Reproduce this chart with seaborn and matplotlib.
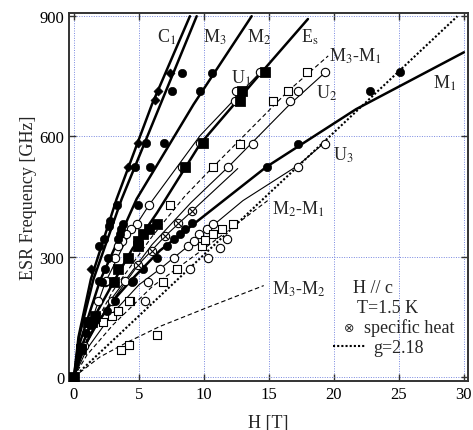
import numpy as np
import pandas as pd
import matplotlib
matplotlib.use("Agg")
import matplotlib.pyplot as plt
import seaborn as sns

# ---- curves (H [T], frequency [GHz]) ----
c1_h = [0, 0.35, 1.3, 3.28, 6.0, 8.92]
c1_f = [0, 100, 244, 444, 680, 900]
m3_h = [0, 0.4, 1.5, 3.67, 6.5, 9.44]
m3_f = [0, 100, 244, 444, 668, 900]
m2_h = [0, 0.5, 2.0, 4.82, 9.2, 13.67]
m2_f = [0, 90, 240, 444, 680, 900]
es_h = [0, 0.5, 1.4, 3.1, 4.5, 6.4, 9.7, 14.7, 18.0]
es_f = [0, 70, 140, 240, 320, 410, 581, 770, 893]
m1_h = [0, 0.5, 1.5, 3.0, 4.5, 6.6, 9.7, 14.8, 21.7, 30.0]
m1_f = [0, 55, 120, 190, 245, 315, 394, 524, 668, 810]
u1_h = [0, 0.8, 2.4, 4.0, 5.8, 9.7, 14.56]
u1_f = [0, 90, 235, 340, 430, 602, 768]
u2_h = [0, 1.0, 3.0, 6.0, 9.0, 11.87, 16.6, 19.4]
u2_f = [0, 90, 200, 330, 435, 524, 680, 762]
u3_h = [0, 1.0, 3.0, 5.0, 6.6, 8.8, 13.0, 17.2, 19.3]
u3_f = [0, 70, 160, 230, 269, 327, 440, 527, 585]
sh_h = [0, 1.0, 2.5, 4.95, 7.0, 9.05, 12.6]
sh_f = [0, 85, 170, 280, 351, 413, 520]
m31_h = [0, 1.0, 3.0, 6.0, 8.5, 10.7, 16.5, 19.56]
m31_f = [0, 95, 215, 350, 450, 524, 714, 801]
m21_h = [0, 1.0, 3.0, 6.0, 10.0, 14.9]
m21_f = [0, 55, 130, 225, 320, 440]
m32_h = [0, 2.0, 4.0, 6.6, 10.0, 14.6]
m32_f = [0, 50, 85, 126, 170, 228]
g_h = [0, 29.5]
g_f = [0, 900]

# ---- data points ----
fc_h = [4.69, 5.54, 7.51, 8.33, 5.85, 6.92, 9.69, 10.59, 14.82, 17.2, 22.8, 25.1,
        3.28, 2.72, 2.77, 1.95, 2.33, 4.9, 3.79, 3.64, 3.54, 3.41, 2.64, 2.38,
        2.13, 4.44, 5.28, 6.36, 7.13, 7.7, 8.15, 8.54, 9.05, 3.15, 2.51, 1.95,
        3.1, 4.51, 1.2, 0.9, 0.6]
fc_f = [524, 583, 714, 758, 524, 583, 714, 758, 524, 581, 714, 760,
        429, 377, 390, 327, 344, 429, 382, 369, 357, 344, 297, 269,
        238, 238, 269, 297, 327, 344, 357, 369, 383, 190, 165, 240,
        240, 240, 130, 110, 75]
oc_h = [8.28, 9.69, 11.87, 13.75, 16.6, 17.2, 19.3, 12.4, 12.5, 14.3, 17.2, 19.3,
        5.79, 4.87, 4.4, 4.0, 3.7, 3.4, 3.15, 2.38, 1.87, 6.6, 5.72, 5.46,
        7.69, 8.8, 9.6, 10.2, 10.7, 10.33, 11.2, 9.2, 8.9, 11.74, 2.92, 0.8,
        2.46, 3.95]
oc_f = [524, 583, 524, 581, 689, 714, 760, 689, 714, 760, 524, 581,
        429, 382, 369, 357, 340, 327, 297, 238, 190, 269, 238, 190,
        297, 327, 356, 369, 381, 298, 323, 340, 269, 344, 190, 78,
        240, 240]
os_h = [10.7, 12.77, 16.5, 17.95, 15.33, 7.38, 7.9, 6.87, 4.31, 3.41, 2.9, 2.26,
        9.82, 10.08, 10.7, 11.36, 12.26, 6.36, 4.23, 3.62, 4.26, 3.36]
os_f = [524, 581, 714, 760, 689, 429, 269, 238, 190, 165, 153, 136,
        327, 342, 356, 369, 382, 105, 81, 68, 190, 165]
fs_h = [8.54, 9.95, 12.8, 12.9, 14.7, 6.36, 5.8, 5.33, 4.95, 4.9, 4.18, 3.41,
        3.1, 1.62, 1.36, 1.05, 0.51, 0]
fs_f = [524, 583, 689, 714, 760, 381, 369, 356, 340, 328, 297, 269,
        238, 153, 136, 136, 70, 0]
dm_h = [7.38, 6.44, 6.23, 4.95, 4.18, 1.31]
dm_f = [758, 714, 691, 583, 524, 269]
heat_h = [9.05, 8.0, 7.0, 5.97, 4.95]
heat_f = [413, 384, 351, 315, 280]

sns.set_style("ticks")
plt.rcParams["font.family"] = ["Liberation Serif", "DejaVu Sans"]
plt.rcParams["mathtext.fontset"] = "stix"

fig = plt.figure(figsize=(4.73, 4.31), dpi=100)
ax = fig.add_axes([0.1465, 0.1137, 0.8425, 0.8538])

# curves
thick = [(c1_h, c1_f), (m3_h, m3_f), (m2_h, m2_f), (es_h, es_f), (m1_h, m1_f)]
thin = [(u1_h, u1_f), (u2_h, u2_f), (u3_h, u3_f), (sh_h, sh_f)]
dashed = [(m31_h, m31_f), (m21_h, m21_f), (m32_h, m32_f)]
for h, f in thick:
    sns.lineplot(x=h, y=f, ax=ax, color="black", lw=1.8, sort=False, estimator=None)
for h, f in thin:
    sns.lineplot(x=h, y=f, ax=ax, color="black", lw=0.8, sort=False, estimator=None)
for h, f in dashed:
    sns.lineplot(x=h, y=f, ax=ax, color="black", lw=0.8, sort=False, estimator=None,
                 dashes=False, linestyle=(0, (4, 2.5)))
sns.lineplot(x=g_h, y=g_f, ax=ax, color="black", lw=1.5, sort=False, estimator=None,
             linestyle=(0, (1, 1)))

# markers
sns.scatterplot(x=oc_h, y=oc_f, ax=ax, marker="o", s=36, facecolor="white",
                edgecolor="black", linewidth=0.8, zorder=5)
sns.scatterplot(x=os_h, y=os_f, ax=ax, marker="s", s=40, facecolor="white",
                edgecolor="black", linewidth=0.8, zorder=5)
sns.scatterplot(x=fc_h, y=fc_f, ax=ax, marker="o", s=36, color="black",
                edgecolor="black", zorder=6)
sns.scatterplot(x=fs_h, y=fs_f, ax=ax, marker="s", s=48, color="black",
                edgecolor="black", zorder=6)
sns.scatterplot(x=dm_h, y=dm_f, ax=ax, marker="D", s=22, color="black",
                edgecolor="black", zorder=6)
sns.scatterplot(x=heat_h, y=heat_f, ax=ax, marker="o", s=36, facecolor="white",
                edgecolor="black", linewidth=0.8, zorder=7)
sns.scatterplot(x=heat_h, y=heat_f, ax=ax, marker="x", s=14, color="black",
                linewidth=0.8, zorder=8)

# curve labels
fs = 13
ax.text(6.4, 836, r"C$_1$", fontsize=fs)
ax.text(9.9, 836, r"M$_3$", fontsize=fs)
ax.text(13.3, 836, r"M$_2$", fontsize=fs)
ax.text(17.5, 836, r"E$_\mathrm{s}$", fontsize=fs)
ax.text(12.1, 735, r"U$_1$", fontsize=fs)
ax.text(19.6, 790, r"M$_3$-M$_1$", fontsize=fs)
ax.text(18.6, 697, r"U$_2$", fontsize=fs)
ax.text(27.6, 722, r"M$_1$", fontsize=fs)
ax.text(19.9, 543, r"U$_3$", fontsize=fs)
ax.text(15.2, 407, r"M$_2$-M$_1$", fontsize=fs)
ax.text(15.2, 207, r"M$_3$-M$_2$", fontsize=fs)

# legend block
ax.text(21.5, 212, "H // c", fontsize=fs)
ax.text(21.8, 163, "T=1.5 K", fontsize=fs)
ax.text(20.8, 114, "\u2297", fontsize=9, family=["DejaVu Sans"])
ax.text(22.3, 112, "specific heat", fontsize=fs)
ax.plot([19.9, 22.5], [78, 78], color="black", lw=1.5, linestyle=(0, (1, 1)))
ax.text(23.0, 63, "g=2.18", fontsize=fs)

ax.set_xlim(-0.36, 30.3)
ax.set_ylim(-10, 908)
ax.set_xticks([0, 5, 10, 15, 20, 25, 30])
ax.set_yticks([0, 300, 600, 900])
ax.grid(True, color="#7888e0", linestyle=(0, (1, 1.5)), lw=0.7)
ax.tick_params(direction="in", top=True, right=True, length=5, width=1,
               labelsize=12, colors="#333333", labelcolor="black")
for s in ax.spines.values():
    s.set_linewidth(1.4)
    s.set_color("#333333")
ax.set_xlabel("H [T]", fontsize=fs, labelpad=9)
ax.set_ylabel("ESR Frequency [GHz]", fontsize=fs, labelpad=2)

fig.savefig("out.png", dpi=100)
